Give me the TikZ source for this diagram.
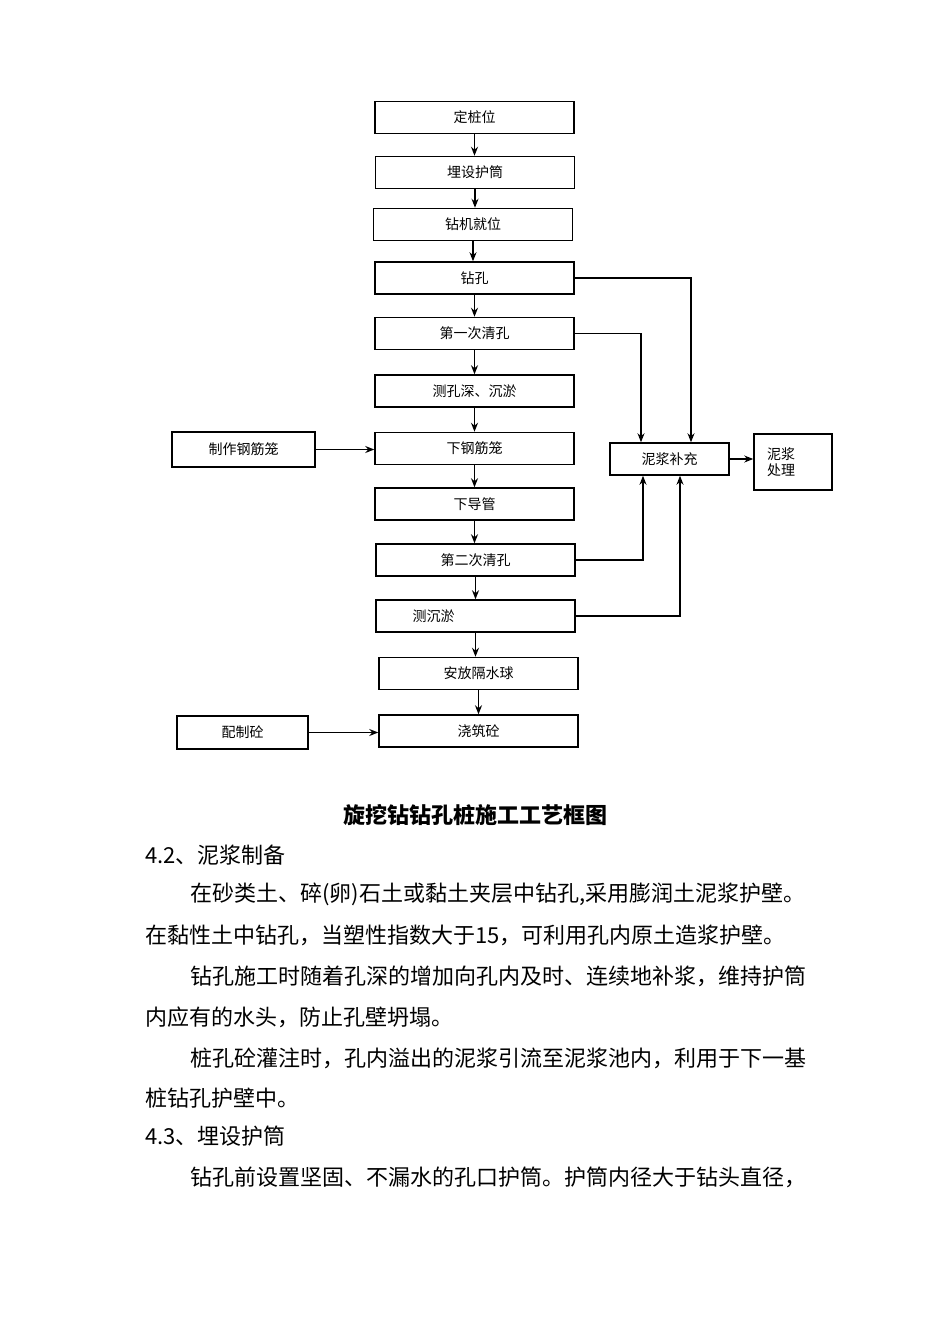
\documentclass[tikz,border=0pt]{standalone}
\usepackage{fontspec}
\setmainfont{Noto Sans CJK SC}
\usetikzlibrary{arrows.meta}
\tikzset{
  box/.style={draw, line width=0.75pt, minimum width=99.5pt, minimum height=16pt,
    inner sep=0pt, font=\fontsize{7}{8}\selectfont},
  flow/.style={-{Stealth[length=4.5pt,width=3.5pt]}, line width=0.6pt},
  para/.style={anchor=west, inner sep=0pt, font=\fontsize{11}{13}\selectfont},
}
\begin{document}
\begin{tikzpicture}[x=0.5pt, y=-0.5pt]
\useasboundingbox (0,0) rectangle (950,1344);
% main column
\foreach \l/\x/\y [count=\i] in {定桩位/474.5/117.5, 埋设护筒/475/172.5, 钻机就位/473/224.5,
    钻孔/474.5/278, 第一次清孔/474.5/333.5, 测孔深、沉淤/474.5/391, 下钢筋笼/474.5/448.5,
    下导管/474.5/504, 第二次清孔/475.5/560, {测沉淤\hspace*{42pt}}/475.5/616,
    安放隔水球/478.5/673.5, 浇筑砼/478.5/731}
  \node [box] (step-\i) at (\x,\y) {\l};
\foreach \i [count=\j from 2] in {1,...,11}
  \draw [flow] (step-\i.south) -- (step-\i.south |- step-\j.north);
% side boxes
\node [box, minimum width=71.5pt, minimum height=17.5pt] (cage) at (243.5,449.5) {制作钢筋笼};
\node [box, minimum width=65.5pt, minimum height=16.5pt] (mix) at (242.5,732.5) {配制砼};
\node [box, minimum width=59.5pt] (mud) at (669.5,459) {泥浆补充};
\node [box, minimum width=39pt, minimum height=28pt, text width=26pt, inner xsep=6.5pt,
  align=left] (treat) at (793,462) {泥浆\\处理};
\draw [flow] (cage.east) -- (cage.east -| step-7.west);
\draw [flow] (mix.east) -- (mix.east -| step-12.west);
\draw [flow] (step-4.east) -| ([xshift=10.75pt]mud.north);
\draw [flow] (step-5.east) -| ([xshift=-14.25pt]mud.north);
\draw [flow] (step-9.east) -| ([xshift=-13.25pt]mud.south);
\draw [flow] (step-10.east) -| ([xshift=5.25pt]mud.south);
\draw [flow] (mud.east) -- (mud.east -| treat.west);
% caption and text
\node [font=\fontsize{11}{13}\selectfont\bfseries] (title) at (475,815) {旋挖钻钻孔桩施工工艺框图};
\foreach \x/\y/\l [count=\i] in {145/855/4.2、泥浆制备,
    190/894/{在砂类土、碎(卵)石土或黏土夹层中钻孔,采用膨润土泥浆护壁。},
    145/935/在黏性土中钻孔，当塑性指数大于15，可利用孔内原土造浆护壁。,
    190/976/钻孔施工时随着孔深的增加向孔内及时、连续地补浆，维持护筒,
    145/1017/内应有的水头，防止孔壁坍塌。,
    190/1058/桩孔砼灌注时，孔内溢出的泥浆引流至泥浆池内，利用于下一基,
    145/1098/桩钻孔护壁中。,
    145/1136/4.3、埋设护筒,
    190/1177/钻孔前设置坚固、不漏水的孔口护筒。护筒内径大于钻头直径，}
  \node [para] (line-\i) at (\x,\y) {\l};
\end{tikzpicture}
\end{document}
